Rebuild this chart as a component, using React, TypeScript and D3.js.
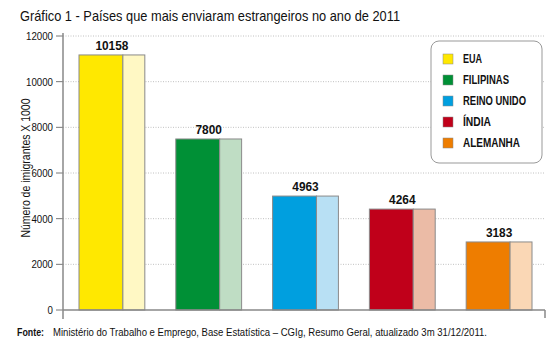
import React from "react";
import * as d3 from "d3";

const countries = ["EUA", "FILIPINAS", "REINO UNIDO", "ÍNDIA", "ALEMANHA"];
const labelValues = ["10158", "7800", "4963", "4264", "3183"];
const barValues = [11170, 7490, 4990, 4420, 2980];
const mainColors = ["#FFE800", "#009036", "#009FDF", "#C0001A", "#EE7D00"];
const lightColors = ["#FFF8C4", "#BFDDC4", "#B8E0F4", "#EBBBA6", "#FAD7B5"];
const yTicks = [0, 2000, 4000, 6000, 8000, 10000, 12000];
const legendWidths = [19, 46, 63, 28, 57];

const FONT = "'Liberation Sans', Arial, sans-serif";

export default function App() {
  const W = 559, H = 357;
  const y = d3.scaleLinear().domain([0, 12000]).range([310, 36]);
  const x = d3.scaleBand<string>().domain(countries).range([79, 532]).paddingInner(0.32).paddingOuter(0);
  const bw = x.bandwidth();
  const axisX = 63;
  return (
    <svg width={W} height={H} style={{ position: "absolute", left: 0, top: 0, fontFamily: FONT }}>
      <rect width={W} height={H} fill="#fff" />
      <text x={20} y={21} fontSize={15} fill="#111" textLength={380} lengthAdjust="spacingAndGlyphs">
        Gráfico 1 - Países que mais enviaram estrangeiros no ano de 2011
      </text>
      {yTicks.map((t) => {
        const s = String(t);
        return (
          <g key={t}>
            {t > 0 && (
              <line x1={axisX} x2={544} y1={y(t)} y2={y(t)} stroke="#b0b0b0" strokeWidth={0.8} strokeDasharray="1,1.5" />
            )}
            <line x1={56} x2={axisX} y1={y(t)} y2={y(t)} stroke="#777" strokeWidth={1} />
            <text x={53 - s.length * 5.4} y={y(t)} dy="0.36em" fontSize={11.5} fill="#111" textLength={s.length * 5.4} lengthAdjust="spacingAndGlyphs">{s}</text>
          </g>
        );
      })}
      <text transform={`translate(30,168) rotate(-90)`} textAnchor="middle" fontSize={12} fill="#111" textLength={139} lengthAdjust="spacingAndGlyphs">
        Número de imigrantes X 1000
      </text>
      {countries.map((c, i) => {
        const x0 = x(c)!;
        const top = y(barValues[i]);
        const mw = bw * 2 / 3;
        const lw = labelValues[i].length * 6.6;
        return (
          <g key={c}>
            <rect x={x0} y={top} width={mw} height={y(0) - top} fill={mainColors[i]} stroke="#8a8a8a" strokeWidth={1} />
            <rect x={x0 + mw} y={top} width={bw - mw} height={y(0) - top} fill={lightColors[i]} stroke="#8a8a8a" strokeWidth={1} />
            <text x={x0 + bw / 2 - lw / 2} y={top - 5} fontSize={12.5} fontWeight="bold" fill="#111" textLength={lw} lengthAdjust="spacingAndGlyphs">{labelValues[i]}</text>
          </g>
        );
      })}
      <line x1={axisX} x2={axisX} y1={33} y2={319} stroke="#888" strokeWidth={1.5} />
      <line x1={axisX} x2={545} y1={310} y2={310} stroke="#888" strokeWidth={1.5} />
      <line x1={545} x2={545} y1={310} y2={318} stroke="#888" strokeWidth={1.5} />
      <rect x={431} y={41} width={111} height={122} rx={8} ry={8} fill="#fff" stroke="#999" strokeWidth={1} />
      {countries.map((c, i) => {
        const cy = 59 + i * 21;
        return (
          <g key={"lg" + c}>
            <rect x={443} y={cy - 5} width={10} height={10} fill={mainColors[i]} stroke="#888" strokeWidth={0.5} />
            <text x={463} y={cy} dy="0.36em" fontSize={12} fontWeight="bold" fill="#111" textLength={legendWidths[i]} lengthAdjust="spacingAndGlyphs">{c}</text>
          </g>
        );
      })}
      <text x={17} y={336} fontSize={10.5} fontWeight="bold" fill="#111" textLength={27} lengthAdjust="spacingAndGlyphs">Fonte:</text>
      <text x={53} y={336} fontSize={10.5} fill="#111" textLength={434} lengthAdjust="spacingAndGlyphs">
        Ministério do Trabalho e Emprego, Base Estatística – CGIg, Resumo Geral, atualizado 3m 31/12/2011.
      </text>
    </svg>
  );
}
